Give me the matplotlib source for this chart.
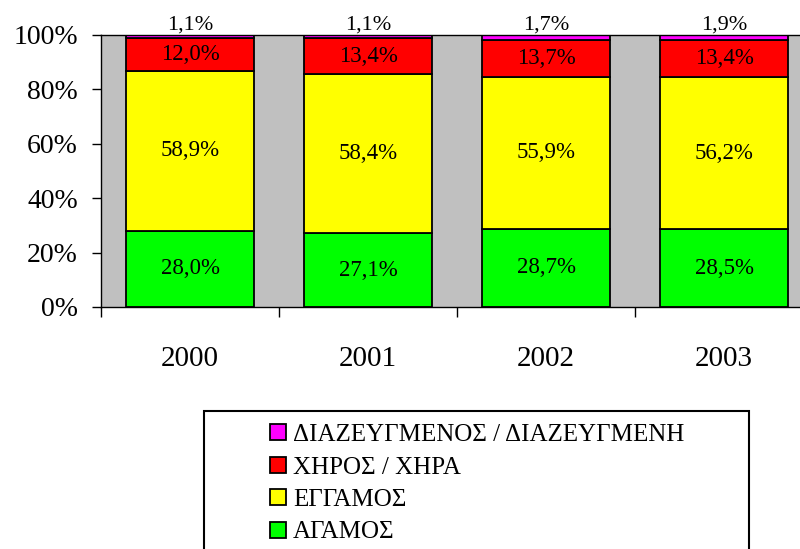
import numpy as np
import matplotlib.pyplot as plt
from matplotlib.patches import Rectangle, Patch

plt.rcParams['font.family'] = ['Liberation Serif', 'DejaVu Serif']

years = ['2000', '2001', '2002', '2003']
agamos = [28.0, 27.1, 28.7, 28.5]
eggamos = [58.9, 58.4, 55.9, 56.2]
chiros = [12.0, 13.4, 13.7, 13.4]
diazeugmenos = [1.1, 1.1, 1.7, 1.9]

series = [
    ('ΑΓΑΜΟΣ', agamos, '#00FF00'),
    ('ΕΓΓΑΜΟΣ', eggamos, '#FFFF00'),
    ('ΧΗΡΟΣ / ΧΗΡΑ', chiros, '#FF0000'),
    ('ΔΙΑΖΕΥΓΜΕΝΟΣ / ΔΙΑΖΕΥΓΜΕΝΗ', diazeugmenos, '#FF00FF'),
]

def fmt(v):
    return f'{v:.1f}%'.replace('.', ',')

fig = plt.figure(figsize=(8, 5.49), dpi=100)
ax = fig.add_axes([101/800, 1 - 307/549, 712/800, 272/549])
ax.set_facecolor('#C0C0C0')

x = np.arange(len(years))
bottom = np.zeros(len(years))
for i, (name, vals, col) in enumerate(series):
    vals = np.array(vals)
    ax.bar(x, vals, 0.72, bottom=bottom, color=col, edgecolor='black',
           linewidth=1.3, label=name)
    for xi, b, v in zip(x, bottom, vals):
        if i == len(series) - 1:
            # smallest share: label sits above the bar
            ax.text(xi, 100.3, fmt(v), ha='center', va='bottom', fontsize=16)
        else:
            ax.text(xi, b + v / 2, fmt(v), ha='center', va='center', fontsize=16.5)
    bottom += vals

ax.set_xlim(-0.5, 3.5)
ax.set_ylim(0, 100)
ax.set_yticks([0, 20, 40, 60, 80, 100])
ax.set_yticklabels([f'{t}%' for t in [0, 20, 40, 60, 80, 100]], fontsize=20)
ax.tick_params(axis='y', length=6.5, width=1, pad=10)
ax.set_xticks(x)
ax.set_xticklabels(years, fontsize=21)
ax.tick_params(axis='x', which='major', length=0, pad=28)
ax.set_xticks(np.arange(-0.5, 4, 1), minor=True)
ax.tick_params(axis='x', which='minor', length=7, width=1)
for s in ax.spines.values():
    s.set_linewidth(1)

# legend box
fig.patches.append(Rectangle((204/800, -0.05), (749 - 204)/800, 0.05 + 138/549,
                             transform=fig.transFigure, fill=False,
                             edgecolor='black', linewidth=1.5))
handles = [Patch(facecolor=c, edgecolor='black', linewidth=1.3, label=n)
           for n, _, c in reversed(series)]
fig.legend(handles=handles, loc='upper left',
           bbox_to_anchor=(270/800, 1 - 424/549), frameon=False,
           fontsize=18, handlelength=0.62, handleheight=0.62,
           handletextpad=0.3, labelspacing=0.42, borderpad=0, borderaxespad=0)

fig.savefig('out.png', dpi=100)
